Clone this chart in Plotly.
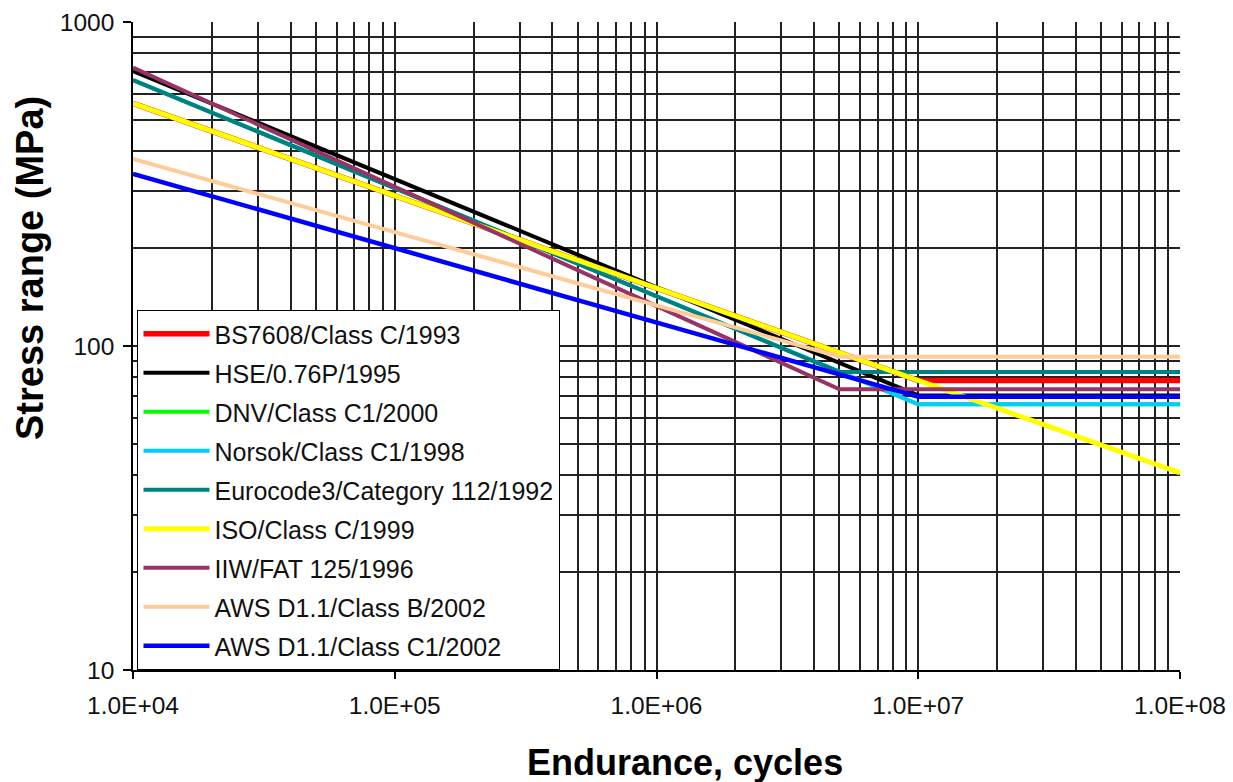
import plotly.graph_objects as go

# ---- data ----
series_names = [
    "BS7608/Class C/1993",
    "HSE/0.76P/1995",
    "DNV/Class C1/2000",
    "Norsok/Class C1/1998",
    "Eurocode3/Category 112/1992",
    "ISO/Class C/1999",
    "IIW/FAT 125/1996",
    "AWS D1.1/Class B/2002",
    "AWS D1.1/Class C1/2002",
]
series_colors = ["#FF0000", "#000000", "#00FF00", "#00CCFF", "#008080",
                 "#FFFF00", "#993366", "#FFCC99", "#0000FF"]
series_widths = [5.5, 4, 4, 4, 4, 5, 4, 4, 4.5]

bs7608_N = [1e4, 1e7, 1e8]
bs7608_S = [561, 78.2, 78.2]
hse_N = [1e4, 1e7, 1e8]
hse_S = [706, 70.4, 70.4]
dnv_N = [1e4, 1e7, 1e8]
dnv_S = [662, 66.1, 66.1]
norsok_N = [1e4, 1e7, 1e8]
norsok_S = [662, 66.1, 66.1]
eurocode_N = [1e4, 5e6, 1e8]
eurocode_S = [662, 83.2, 83.2]
iso_N = [1e4, 1e8]
iso_S = [561, 40.6]
iiw_N = [1e4, 5e6, 1e8]
iiw_S = [723, 73.5, 73.5]
aws_b_N = [1e4, 5e6, 1e8]
aws_b_S = [378, 92.7, 92.7]
aws_c1_N = [1e4, 1e7, 1e8]
aws_c1_S = [340, 69.7, 69.7]

series_N = [bs7608_N, hse_N, dnv_N, norsok_N, eurocode_N, iso_N, iiw_N, aws_b_N, aws_c1_N]
series_S = [bs7608_S, hse_S, dnv_S, norsok_S, eurocode_S, iso_S, iiw_S, aws_b_S, aws_c1_S]

x_tickvals = [1e4, 1e5, 1e6, 1e7, 1e8]
x_ticktext = ["1.0E+04", "1.0E+05", "1.0E+06", "1.0E+07", "1.0E+08"]
y_tickvals = [10, 100, 1000]
y_ticktext = ["10", "100", "1000"]

FONT = "Arial, Liberation Sans, sans-serif"
GRID = "#222222"

fig = go.Figure()
for i, name in enumerate(series_names):
    fig.add_trace(go.Scatter(
        x=series_N[i], y=series_S[i], mode="lines", name=name,
        legendgroup=f"g{i}",
        line=dict(color=series_colors[i], width=series_widths[i]),
    ))

W, H = 1233, 782
ml, mr, mt, mb = 133, 53, 22, 112

fig.update_layout(
    width=W, height=H,
    margin=dict(l=ml, r=mr, t=mt, b=mb, pad=0),
    paper_bgcolor="white", plot_bgcolor="white",
    font=dict(family=FONT, size=24, color="#111111"),
    showlegend=True,
    legend=dict(
        x=0.004, y=0.556, xanchor="left", yanchor="top",
        bgcolor="white", bordercolor="black", borderwidth=1.3,
        font=dict(family=FONT, size=25, color="#111111"),
        tracegroupgap=3.5, itemwidth=66,
        entrywidth=370, entrywidthmode="pixels",
    ),
    xaxis=dict(
        type="log", range=[4, 8], automargin=False,
        tickvals=x_tickvals, ticktext=x_ticktext,
        showgrid=True, gridcolor=GRID, gridwidth=1.6,
        showline=True, linecolor="black", linewidth=1.5,
        ticks="outside", ticklen=7, tickcolor="black", tickwidth=1.5,
        ticklabelstandoff=6,
        minor=dict(dtick="D1", showgrid=True, gridcolor=GRID, gridwidth=1.6, ticks=""),
        zeroline=False, mirror=False,
        tickfont=dict(size=24.5),
    ),
    yaxis=dict(
        type="log", range=[1, 3], automargin=False,
        tickvals=y_tickvals, ticktext=y_ticktext,
        showgrid=True, gridcolor=GRID, gridwidth=1.6,
        showline=True, linecolor="black", linewidth=1.5,
        ticks="outside", ticklen=8, tickcolor="black", tickwidth=1.5,
        ticklabelstandoff=4,
        minor=dict(dtick="D1", showgrid=True, gridcolor=GRID, gridwidth=1.6, ticks=""),
        zeroline=False,
        tickfont=dict(size=24.5),
    ),
    annotations=[
        dict(text="<b>Stress range (MPa)</b>", textangle=-90,
             xref="paper", yref="paper", x=0, y=(670 - 268) / 648,
             xanchor="center", yanchor="middle", xshift=-(133 - 30),
             showarrow=False, font=dict(family=FONT, size=38, color="black")),
        dict(text="<b>Endurance, cycles</b>",
             xref="paper", yref="paper", x=(685 - 133) / 1047, y=0,
             xanchor="center", yanchor="middle", yshift=-(762 - 670),
             showarrow=False, font=dict(family=FONT, size=36, color="black")),
    ],
)

fig.write_html(
    "out.html",
    config={"displayModeBar": False},
    post_script="document.body.style.margin='0';document.documentElement.style.overflow='hidden';",
)
